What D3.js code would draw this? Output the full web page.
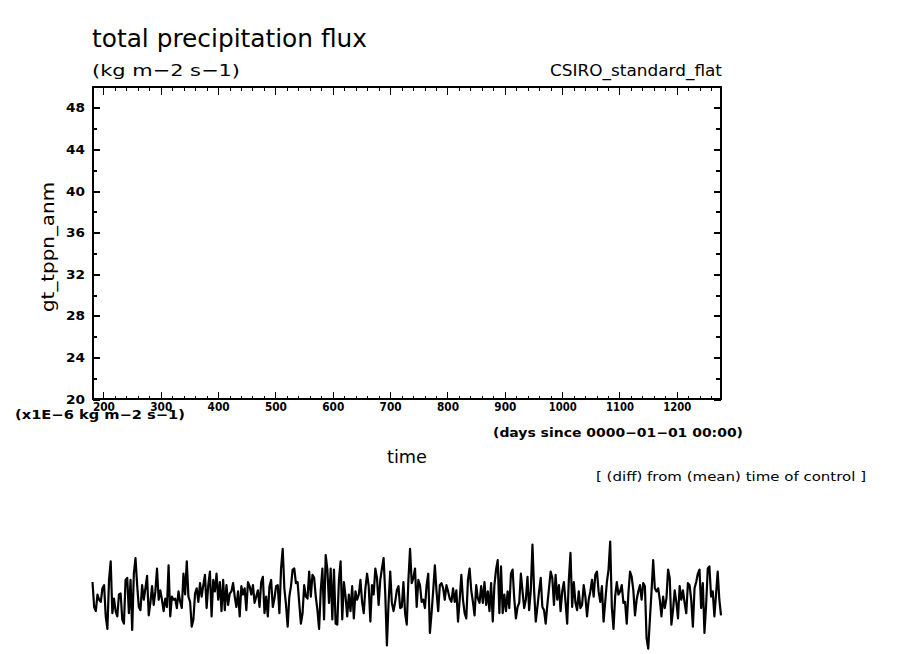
<!DOCTYPE html>
<html>
<head>
<meta charset="utf-8">
<script src="https://d3js.org/d3.v7.min.js"></script>
<style>
  body { margin: 0; background: #fff; }
  text { font-family: "DejaVu Sans", sans-serif; fill: #000; }
</style>
</head>
<body>
<div id="chart"></div>
<script>
// Axis ticks
var xTickValues = [200, 300, 400, 500, 600, 700, 800, 900, 1000, 1100, 1200];
var xMinorTicks = [200, 220, 240, 260, 280, 300, 320, 340, 360, 380, 400, 420, 440, 460, 480, 500,
                   520, 540, 560, 580, 600, 620, 640, 660, 680, 700, 720, 740, 760, 780, 800, 820,
                   840, 860, 880, 900, 920, 940, 960, 980, 1000, 1020, 1040, 1060, 1080, 1100,
                   1120, 1140, 1160, 1180, 1200, 1220, 1240, 1260];
var yTickValues = [20, 24, 28, 32, 36, 40, 44, 48];
var yMinorTicks = [22, 26, 30, 34, 38, 42, 46];

// time range (days since 0000-01-01) and axis range
var timeStart = 181;
var timeEnd = 1277;
var yDomain = [20, 50];

// gt_tppn_anm, diff from time mean of control (x1E-6 kg m-2 s-1)
var anomaly = [
  2.4, 0.0, -0.4, 1.2, 0.7, 0.5, 1.8, 2.1, -0.9, -2.1,
  2.6, 4.4, -0.6, 0.8, -0.4, -0.9, 1.2, 1.3, -1.2, -1.6,
  2.6, 2.8, -0.6, 2.6, -2.2, 3.2, 4.7, 2.1, 0.0, -0.3,
  2.1, 0.7, 1.8, 3.0, -0.8, 0.4, 2.0, 0.2, 1.5, 3.7,
  0.7, 1.6, 0.7, -0.4, 0.8, 0.0, 4.0, -0.9, 1.0, 0.7,
  0.8, -0.1, 1.5, 0.5, -0.1, 3.2, 1.2, 4.4, 1.0, 0.5,
  -1.9, -1.2, 1.3, 1.8, 0.5, 2.3, 1.0, 2.1, 3.1, -0.1,
  2.1, 3.4, -0.9, 2.6, 1.5, 3.2, 0.7, 2.4, -0.4, 2.6,
  -0.3, 2.1, 0.2, 1.3, 1.5, 2.3, 1.0, 0.0, 1.5, -0.9,
  2.0, 1.2, 1.8, -0.3, 2.4, 2.0, 1.2, 2.1, 0.4, 1.0,
  1.6, 0.0, 2.4, 2.9, -0.6, 1.0, -0.9, 2.0, 2.6, 0.0,
  0.8, 2.0, 2.1, -0.6, 3.7, 5.6, 1.8, 0.2, -1.9, 1.0,
  2.0, 3.6, 3.7, 2.3, 2.4, 0.4, -1.6,
  -0.6, 2.1, 1.0, 0.8, 3.4, 1.0, 3.1, 2.8, 1.0, -0.3,
  -2.1, 1.6, 3.7, -1.2, 5.0, 3.6, 0.4, 3.7, -1.2, 3.6,
  -1.6, -1.7, 2.6, 4.4, -1.2, 2.4, 1.0, -0.9, 1.2, -0.4,
  2.0, -1.1, 1.5, 0.7, 1.2, 2.6, 0.5, -0.6, 1.8, 3.2,
  2.0, -1.4, 2.1, 1.2, 3.7, 2.8, 0.2, 2.6, 3.7, 4.7,
  1.3, -3.7, 0.4, 3.4, 0.4, -0.4, 0.5, 1.6, 2.0, -0.1,
  0.0, 2.4, -0.6, -1.7, 2.6, 5.6, 2.3, 2.8, 3.7, 0.0,
  2.6, 2.1, 0.5, 0.7, -0.1, 2.1, 3.2, -2.5, -0.6, 1.6,
  4.0, 1.5, -0.4, 2.1, 2.3, 1.8, 0.7, 2.1, 1.5, 0.8,
  0.5, 1.8, 0.5, 1.6, -1.4, 0.7, 3.1, 0.7, -0.6, -1.1,
  2.6, 3.7, 1.6, 0.5, -0.8, 2.1, 0.8, 0.4, 2.0, 0.4,
  2.4, 0.2, 1.5, -0.4, 2.3, -1.4, 2.1, 3.6, 4.5, -0.6,
  3.9, -0.6, 1.2, -0.4, 1.5, -0.1, 3.2,
  3.6, 0.8, -1.1, 0.0, 0.4, 3.2, 1.5, -0.1, 0.7, 2.9,
  -0.3, 1.6, 6.0, 1.6, -1.4, 0.0, 1.5, 2.8, 0.0, -0.3,
  -1.6, 0.2, 1.8, 3.4, 2.8, 0.2, 3.1, 0.7, 2.1, -0.4,
  1.5, 2.4, 0.5, -1.6, 2.6, 5.2, 0.0, 2.4, 0.4, -0.3,
  1.5, -0.1, 0.2, 2.1, 1.0, -0.9, 0.7, 1.5, 2.6, 1.0,
  3.1, 3.4, 1.5, 0.5, 2.0, -1.4, 0.5, 2.4, 3.6, 6.3,
  0.0, -2.1, 1.0, 2.4, 1.2, 1.5, 2.1, 0.4, 0.5, -1.6,
  1.3, 3.4, 2.9, 1.6, -0.8, 0.7, 1.5, 2.1, 0.7, 2.3,
  2.0, -3.0, -4.0, -1.2, 1.5, 4.5, 1.8, 1.5, 1.8, 0.7,
  -0.9, 1.0, -0.1, 0.8, 3.6, 2.8, -1.7, -0.3, 1.6, 0.5,
  -1.1, 2.0, 0.7, 1.6, 0.4, -0.6, 2.3, 2.1, 0.7, -1.9,
  1.8, 2.4, 3.2, 3.6, -0.1, 2.3, -2.5, 0.2, 3.7, 3.9,
  1.0, 1.5, -0.9, 1.2, 3.4, 0.7, -0.8
];

// evenly sampled in time over the plotted range
var timeStep = (timeEnd - timeStart) / (anomaly.length - 1);
var series = anomaly.map(function(v, i) {
  return { time: timeStart + i * timeStep, value: v };
});

var svgWidth = 904;
var svgHeight = 654;

var margin = {
  top: 87,
  right: 183,
  bottom: 255,
  left: 92.5
};

var chartWidth = svgWidth - margin.left - margin.right;
var chartHeight = svgHeight - margin.top - margin.bottom;

var svg = d3.select("#chart")
  .append("svg")
  .attr("width", svgWidth)
  .attr("height", svgHeight)
  .style("background", "#fff");

var chartGroup = svg.append("g")
  .attr("transform", `translate(${margin.left}, ${margin.top})`);

var xLinearScale = d3.scaleLinear()
  .domain([timeStart, timeEnd])
  .range([0, chartWidth]);

var yLinearScale = d3.scaleLinear()
  .domain(yDomain)
  .range([chartHeight, 0]);

// helper to draw one set of ticks
function drawAxis(axis, x, y, width) {
  var g = chartGroup.append("g")
    .attr("transform", `translate(${x}, ${y})`)
    .call(axis);
  g.select(".domain").remove();
  g.selectAll(".tick line")
    .attr("stroke", "#000")
    .attr("stroke-width", width)
    .attr("shape-rendering", "crispEdges");
  return g;
}

// bottom
var xAxis = drawAxis(d3.axisBottom(xLinearScale).tickValues(xTickValues)
  .tickSize(-7).tickPadding(2.5).tickFormat(d3.format("d")), 0, chartHeight, 1);
drawAxis(d3.axisBottom(xLinearScale).tickValues(xMinorTicks).tickSize(-3.5).tickFormat(""), 0, chartHeight, 1);
// top
drawAxis(d3.axisTop(xLinearScale).tickValues(xTickValues).tickSize(-8).tickFormat(""), 0, 0, 1);
drawAxis(d3.axisTop(xLinearScale).tickValues(xMinorTicks).tickSize(-3.5).tickFormat(""), 0, 0, 1);
// left
var yAxis = drawAxis(d3.axisLeft(yLinearScale).tickValues(yTickValues)
  .tickSize(-7).tickPadding(7.5).tickFormat(d3.format("d")), 0, 0, 2);
drawAxis(d3.axisLeft(yLinearScale).tickValues(yMinorTicks).tickSize(-4).tickFormat(""), 0, 0, 2);
// right
drawAxis(d3.axisRight(yLinearScale).tickValues(yTickValues).tickSize(-7).tickFormat(""), chartWidth, 0, 2);
drawAxis(d3.axisRight(yLinearScale).tickValues(yMinorTicks).tickSize(-5).tickFormat(""), chartWidth, 0, 2);

xAxis.selectAll("text")
  .attr("fill", "#000")
  .style("font-family", "DejaVu Sans")
  .style("font-size", "13px")
  .style("font-weight", "bold")
  .attr("textLength", d => String(d).length === 4 ? 28 : 22)
  .attr("lengthAdjust", "spacingAndGlyphs");

yAxis.selectAll("text")
  .attr("fill", "#000")
  .style("font-family", "DejaVu Sans")
  .style("font-size", "13px")
  .style("font-weight", "bold")
  .attr("textLength", 19)
  .attr("lengthAdjust", "spacingAndGlyphs");

// frame
chartGroup.append("rect")
  .attr("width", chartWidth)
  .attr("height", chartHeight)
  .attr("fill", "none")
  .attr("stroke", "#000")
  .attr("stroke-width", 2)
  .attr("shape-rendering", "crispEdges");

// data line (falls below the frame, not clipped)
var line = d3.line()
  .x(d => xLinearScale(d.time))
  .y(d => yLinearScale(d.value));

chartGroup.append("path")
  .datum(series)
  .attr("d", line)
  .attr("fill", "none")
  .attr("stroke", "#000")
  .attr("stroke-width", 2.2)
  .attr("stroke-linejoin", "round");

// labels
function addText(txt, x, y, size, len, opts) {
  opts = opts || {};
  var t = svg.append("text")
    .attr("x", x)
    .attr("y", y)
    .attr("font-size", size)
    .attr("textLength", len)
    .attr("lengthAdjust", "spacingAndGlyphs")
    .attr("text-anchor", opts.anchor || "start")
    .attr("font-weight", opts.bold ? "bold" : "normal")
    .text(txt);
  if (opts.transform) t.attr("transform", opts.transform);
  return t;
}

addText("total precipitation flux", 92, 47, 24, 275);
addText("(kg m\u22122 s\u22121)", 92, 76, 16, 148);
addText("CSIRO_standard_flat", 722, 76, 15, 172, {anchor: "end"});
addText("gt_tppn_anm", 0, 0, 18, 130, {anchor: "middle", transform: "translate(54, 247) rotate(-90)"});
addText("(x1E\u22126 kg m\u22122 s\u22121)", 15, 419, 12, 170, {bold: true});
addText("(days since 0000\u221201\u221201 00:00)", 493, 437, 12, 250, {bold: true});
addText("time", 387, 463, 18, 40);
addText("[ (diff) from (mean) time of control ]", 596, 481, 13, 270);
</script>
</body>
</html>
